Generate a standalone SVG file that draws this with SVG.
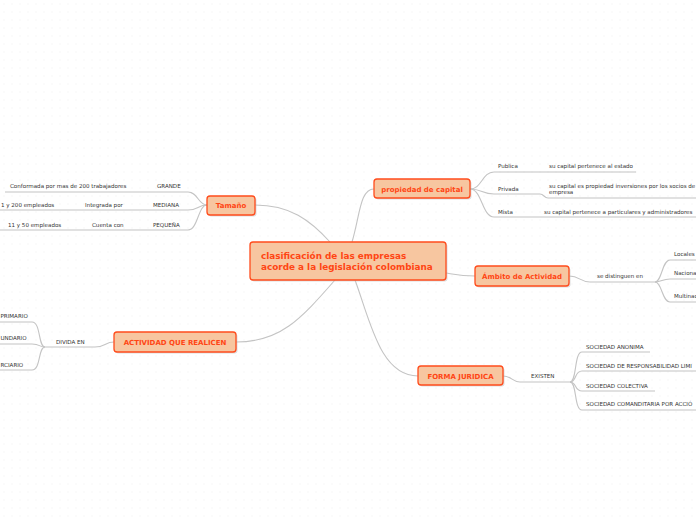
<svg xmlns="http://www.w3.org/2000/svg" width="696" height="520" viewBox="0 0 696 520">
<defs>
<pattern id="dots" width="8" height="8" patternUnits="userSpaceOnUse">
<rect x="3.5" y="3.5" width="1" height="1" fill="#eeeeee"/>
</pattern>
<style>
.node rect.box{fill:#f7c6a0;stroke:#ff4c1c;stroke-width:1.3}
.node rect.sh{fill:#bbbbbb;opacity:0.5}
.nt{font-family:"DejaVu Sans",Verdana,sans-serif;font-weight:bold;fill:#ff4514;font-size:7px}
.ct{font-family:"DejaVu Sans",Verdana,sans-serif;font-weight:bold;fill:#ff4514;font-size:8.85px}
.t{font-family:"DejaVu Sans",Verdana,sans-serif;fill:#333333;font-size:5.55px}
#connectors path{fill:none;stroke:#c4c4c4;stroke-width:1.1}
</style>
</defs>
<rect width="696" height="520" fill="#ffffff"/>
<rect width="696" height="520" fill="url(#dots)"/>

<g id="connectors">
<path d="M330,242 C310,220 290,205 255,205"/>
<path d="M352,242 C360,215 360,189 374,189"/>
<path d="M446,273 C458,275 462,276 475,276"/>
<path d="M355,280 C370,320 380,376 418,376"/>
<path d="M335,280 C300,320 280,342 236,342"/>
<path d="M207,205 C198,205 198,192 188,192 L5,192"/>
<path d="M207,205 C198,205 198,210 188,210 L0,210"/>
<path d="M207,205 C198,205 198,230 188,230 L0,230"/>
<path d="M470,189 C482,189 482,172 494,172 L636,172"/>
<path d="M470,189 C482,189 482,194 494,194 L540,194 C544,194 544,198 548,198 L696,198"/>
<path d="M470,189 C482,189 482,217 494,217 L696,217"/>
<path d="M569,276 C580,276 580,282 590,282 L655,282"/>
<path d="M655,282 C662,282 662,260 670,260 L696,260"/>
<path d="M655,282 C662,282 662,279 670,279 L696,279"/>
<path d="M655,282 C662,282 662,302 670,302 L696,302"/>
<path d="M503,376 C512,376 512,382 520,382 L570,382"/>
<path d="M570,382 C577,382 574,352 582,352 L650,352"/>
<path d="M570,382 C577,382 574,371 582,371 L696,371"/>
<path d="M570,382 C577,382 574,391 582,391 L655,391"/>
<path d="M570,382 C577,382 574,410 582,410 L696,410"/>
<path d="M114,342 C105,342 105,347 95,347 L45,347"/>
<path d="M45,347 C38,347 41,322 32,322 L0,322"/>
<path d="M45,347 C38,347 41,344 32,344 L0,344"/>
<path d="M45,347 C38,347 41,370 32,370 L0,370"/>
</g>

<g id="center" class="node">
<rect class="sh" x="251.5" y="243.5" width="196" height="38" rx="3"/>
<rect class="box" x="250" y="242" width="196" height="38" rx="3"/>
<text class="ct" x="261" y="259">clasificación de las empresas</text>
<text class="ct" x="261" y="270">acorde a la legislación colombiana</text>
</g>
<g id="tamano" class="node">
<rect class="sh" x="208.5" y="197.5" width="48" height="19" rx="3"/>
<rect class="box" x="207" y="196" width="48" height="19" rx="3"/>
<text class="nt" x="231" y="208" text-anchor="middle">Tamaño</text>
</g>
<g id="propiedad" class="node">
<rect class="sh" x="375.5" y="180.5" width="96" height="19" rx="3"/>
<rect class="box" x="374" y="179" width="96" height="19" rx="3"/>
<text class="nt" x="422" y="191.5" text-anchor="middle">propiedad de capital</text>
</g>
<g id="ambito" class="node">
<rect class="sh" x="476.5" y="267.5" width="94" height="20" rx="3"/>
<rect class="box" x="475" y="266" width="94" height="20" rx="3"/>
<text class="nt" x="522" y="278.5" text-anchor="middle">Ámbito de Actividad</text>
</g>
<g id="forma" class="node">
<rect class="sh" x="419.5" y="367.5" width="85" height="19" rx="3"/>
<rect class="box" x="418" y="366" width="85" height="19" rx="3"/>
<text class="nt" x="460.5" y="378.5" text-anchor="middle">FORMA JURIDICA</text>
</g>
<g id="actividad" class="node">
<rect class="sh" x="115.5" y="333.5" width="122" height="20" rx="3"/>
<rect class="box" x="114" y="332" width="122" height="20" rx="3"/>
<text class="nt" x="175" y="344.5" text-anchor="middle">ACTIVIDAD QUE REALICEN</text>
</g>

<g id="tamano-children">
<text class="t" x="157" y="188">GRANDE</text>
<text class="t" x="10" y="188">Conformada por mas de 200 trabajadores</text>
<text class="t" x="153" y="207">MEDIANA</text>
<text class="t" x="85" y="207">Integrada por</text>
<text class="t" x="1" y="207">1 y 200 empleados</text>
<text class="t" x="153" y="227">PEQUEÑA</text>
<text class="t" x="92" y="227">Cuenta con</text>
<text class="t" x="8" y="227">11 y 50 empleados</text>
</g>
<g id="propiedad-children">
<text class="t" x="498" y="168">Publica</text>
<text class="t" x="549" y="168">su capital pertenece al estado</text>
<text class="t" x="498" y="191">Privada</text>
<text class="t" x="549" y="187.5">su capital es propiedad inversiones por los socios de</text>
<text class="t" x="549" y="193.5">empresa</text>
<text class="t" x="498" y="214">Mista</text>
<text class="t" x="544" y="214">su capital pertenece a particulares y administradores</text>
</g>
<g id="ambito-children">
<text class="t" x="597" y="278">se distinguen en</text>
<text class="t" x="674" y="256">Locales</text>
<text class="t" x="674" y="275">Naciona</text>
<text class="t" x="674" y="298">Multinac</text>
</g>
<g id="forma-children">
<text class="t" x="531" y="378">EXISTEN</text>
<text class="t" x="586" y="349">SOCIEDAD ANONIMA</text>
<text class="t" x="586" y="368">SOCIEDAD DE RESPONSABILIDAD LIMI</text>
<text class="t" x="586" y="388">SOCIEDAD COLECTIVA</text>
<text class="t" x="586" y="406">SOCIEDAD COMANDITARIA POR ACCIÓ</text>
</g>
<g id="actividad-children">
<text class="t" x="56" y="344">DIVIDA EN</text>
<text class="t" x="0.5" y="318">PRIMARIO</text>
<text class="t" x="0.5" y="340">UNDARIO</text>
<text class="t" x="0.5" y="367">RCIARIO</text>
</g>
</svg>
